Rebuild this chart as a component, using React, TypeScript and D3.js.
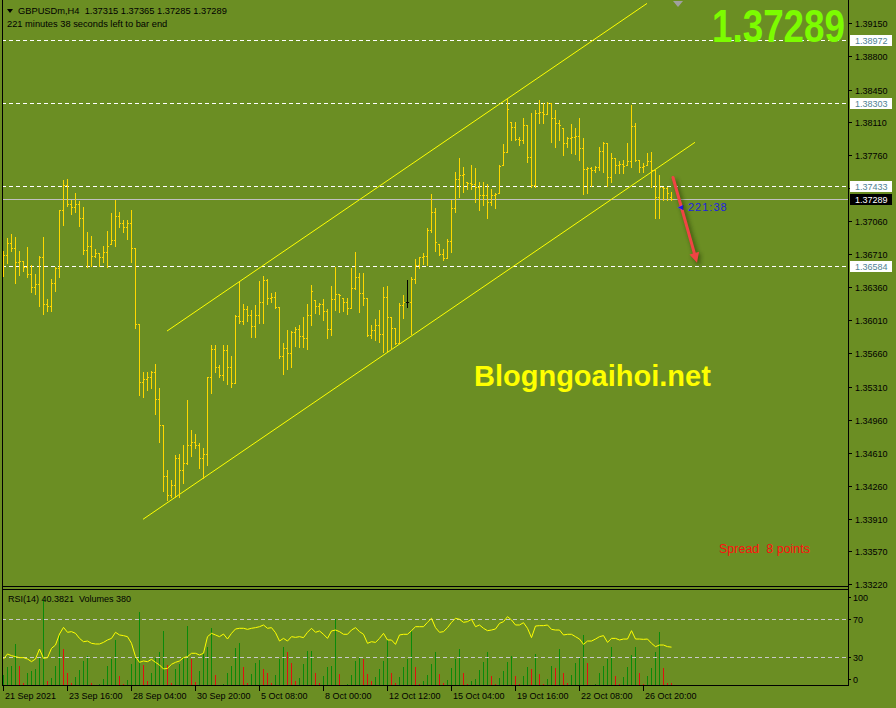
import React, { useRef, useEffect } from 'react'
import * as d3 from 'd3'

// GBPUSDm H4 bars (oldest first)
const opens = [
  1.3672, 1.3670, 1.3683, 1.3678, 1.3663, 1.3664, 1.3657, 1.3650, 1.3636, 1.3639,
  1.3668, 1.3618, 1.3616, 1.3641, 1.3656, 1.3718, 1.3744, 1.3724, 1.3721, 1.3724,
  1.3709, 1.3675, 1.3680, 1.3669, 1.3672, 1.3668, 1.3673, 1.3682, 1.3686, 1.3711,
  1.3704, 1.3700, 1.3704, 1.3677, 1.3597, 1.3536, 1.3539, 1.3541, 1.3546, 1.3518,
  1.3490, 1.3437, 1.3416, 1.3427, 1.3455, 1.3443, 1.3450, 1.3469, 1.3472, 1.3469,
  1.3455, 1.3460, 1.3541, 1.3571, 1.3552, 1.3543, 1.3570, 1.3552, 1.3535, 1.3606,
  1.3600, 1.3613, 1.3607, 1.3595, 1.3607, 1.3620, 1.3644, 1.3625, 1.3626, 1.3615,
  1.3563, 1.3572, 1.3567, 1.3589, 1.3592, 1.3584, 1.3582, 1.3607, 1.3623, 1.3616,
  1.3618, 1.3611, 1.3592, 1.3624, 1.3629, 1.3625, 1.3620, 1.3614, 1.3635, 1.3647,
  1.3630, 1.3625, 1.3586, 1.3591, 1.3596, 1.3587, 1.3626, 1.3605, 1.3593, 1.3577,
  1.3617, 1.3620, 1.3620, 1.3645, 1.3660, 1.3668, 1.3669, 1.3696, 1.3716, 1.3682,
  1.3671, 1.3667, 1.3685, 1.3720, 1.3750, 1.3755, 1.3747, 1.3746, 1.3745, 1.3742,
  1.3733, 1.3734, 1.3726, 1.3733, 1.3736, 1.3765, 1.3779, 1.3811, 1.3805, 1.3793,
  1.3792, 1.3808, 1.3774, 1.3744, 1.3820, 1.3821, 1.3819, 1.3831, 1.3815, 1.3810,
  1.3804, 1.3788, 1.3794, 1.3795, 1.3796, 1.3783, 1.3761, 1.3762, 1.3760, 1.3763,
  1.3780, 1.3788, 1.3753, 1.3773, 1.3765, 1.3766, 1.3765, 1.3769, 1.3806, 1.3770,
  1.3763, 1.3765, 1.3769, 1.3760, 1.3731, 1.3742, 1.3741, 1.37315,
]
const highs = [
  1.3674, 1.3688, 1.3692, 1.3689, 1.3674, 1.3664, 1.3679, 1.3660, 1.3650, 1.3669,
  1.3689, 1.3624, 1.3645, 1.3657, 1.3718, 1.3749, 1.3750, 1.3728, 1.3736, 1.3727,
  1.3721, 1.3694, 1.3690, 1.3676, 1.3672, 1.3680, 1.3695, 1.3714, 1.3728, 1.3716,
  1.3707, 1.3707, 1.3718, 1.3677, 1.3597, 1.3546, 1.3546, 1.3547, 1.3555, 1.3529,
  1.3490, 1.3443, 1.3432, 1.3459, 1.3460, 1.3469, 1.3517, 1.3485, 1.3481, 1.3471,
  1.3466, 1.3541, 1.3575, 1.3575, 1.3554, 1.3575, 1.3575, 1.3563, 1.3607, 1.3642,
  1.3618, 1.3616, 1.3612, 1.3617, 1.3643, 1.3648, 1.3645, 1.3630, 1.3631, 1.3615,
  1.3577, 1.3591, 1.3590, 1.3594, 1.3596, 1.3605, 1.3618, 1.3638, 1.3623, 1.3619,
  1.3624, 1.3613, 1.3637, 1.3657, 1.3629, 1.3625, 1.3625, 1.3656, 1.3673, 1.3651,
  1.3651, 1.3625, 1.3596, 1.3602, 1.3612, 1.3636, 1.3637, 1.3605, 1.3593, 1.3619,
  1.3628, 1.3644, 1.3647, 1.3666, 1.3668, 1.3672, 1.3699, 1.3735, 1.3720, 1.3682,
  1.3676, 1.3687, 1.3728, 1.3758, 1.3773, 1.3763, 1.3747, 1.3765, 1.3762, 1.3747,
  1.3747, 1.3745, 1.3740, 1.3736, 1.3765, 1.3787, 1.3835, 1.3811, 1.3811, 1.3795,
  1.3815, 1.3808, 1.3820, 1.3823, 1.3834, 1.3831, 1.3832, 1.3831, 1.3823, 1.3813,
  1.3804, 1.3795, 1.3809, 1.3804, 1.3815, 1.3794, 1.3763, 1.3763, 1.3764, 1.3784,
  1.3790, 1.3789, 1.3778, 1.3773, 1.3769, 1.3771, 1.3788, 1.3829, 1.3810, 1.3771,
  1.3767, 1.3778, 1.3779, 1.3760, 1.3755, 1.3742, 1.3742, 1.37365,
]
const lows = [
  1.3648, 1.3662, 1.3674, 1.3641, 1.3649, 1.3653, 1.3647, 1.3631, 1.3629, 1.3616,
  1.3608, 1.3611, 1.3611, 1.3632, 1.3647, 1.3702, 1.3722, 1.3713, 1.3716, 1.3701,
  1.3671, 1.3657, 1.3658, 1.3668, 1.3658, 1.3663, 1.3657, 1.3682, 1.3680, 1.3700,
  1.3694, 1.3687, 1.3663, 1.3593, 1.3522, 1.3520, 1.3527, 1.3529, 1.3502, 1.3472,
  1.3421, 1.3411, 1.3414, 1.3414, 1.3414, 1.3429, 1.3449, 1.3458, 1.3466, 1.3445,
  1.3434, 1.3448, 1.3524, 1.3546, 1.3541, 1.3538, 1.3534, 1.3531, 1.3535, 1.3598,
  1.3597, 1.3600, 1.3583, 1.3583, 1.3598, 1.3598, 1.3618, 1.3620, 1.3614, 1.3561,
  1.3544, 1.3550, 1.3552, 1.3574, 1.3573, 1.3573, 1.3571, 1.3596, 1.3609, 1.3608,
  1.3601, 1.3582, 1.3586, 1.3612, 1.3610, 1.3611, 1.3608, 1.3614, 1.3634, 1.3610,
  1.3617, 1.3584, 1.3582, 1.3580, 1.3578, 1.3568, 1.3569, 1.3571, 1.3576, 1.3577,
  1.3603, 1.3615, 1.3587, 1.3640, 1.3656, 1.3661, 1.3659, 1.3694, 1.3674, 1.3670,
  1.3665, 1.3667, 1.3673, 1.3716, 1.3731, 1.3737, 1.3740, 1.3740, 1.3726, 1.3718,
  1.3723, 1.3709, 1.3723, 1.3720, 1.3736, 1.3765, 1.3779, 1.3792, 1.3792, 1.3786,
  1.3788, 1.3768, 1.3742, 1.3742, 1.3810, 1.3810, 1.3819, 1.3790, 1.3784, 1.3792,
  1.3776, 1.3784, 1.3778, 1.3777, 1.3771, 1.3735, 1.3736, 1.3743, 1.3758, 1.3760,
  1.3758, 1.3743, 1.3747, 1.3757, 1.3757, 1.3757, 1.3765, 1.3763, 1.3769, 1.3758,
  1.3758, 1.3765, 1.3742, 1.3709, 1.3709, 1.3728, 1.3728, 1.37285,
]
const closes = [
  1.3670, 1.3683, 1.3678, 1.3663, 1.3664, 1.3657, 1.3650, 1.3636, 1.3639, 1.3668,
  1.3618, 1.3616, 1.3641, 1.3656, 1.3718, 1.3744, 1.3724, 1.3721, 1.3724, 1.3709,
  1.3675, 1.3680, 1.3669, 1.3672, 1.3668, 1.3673, 1.3680, 1.3686, 1.3711, 1.3704,
  1.3700, 1.3704, 1.3677, 1.3597, 1.3536, 1.3539, 1.3541, 1.3546, 1.3518, 1.3490,
  1.3437, 1.3416, 1.3427, 1.3455, 1.3443, 1.3450, 1.3469, 1.3472, 1.3469, 1.3455,
  1.3460, 1.3541, 1.3571, 1.3552, 1.3543, 1.3570, 1.3552, 1.3535, 1.3606, 1.3600,
  1.3613, 1.3607, 1.3595, 1.3607, 1.3620, 1.3644, 1.3625, 1.3626, 1.3615, 1.3563,
  1.3572, 1.3567, 1.3589, 1.3592, 1.3584, 1.3582, 1.3607, 1.3632, 1.3616, 1.3618,
  1.3611, 1.3592, 1.3624, 1.3629, 1.3628, 1.3620, 1.3614, 1.3635, 1.3647, 1.3630,
  1.3625, 1.3586, 1.3591, 1.3596, 1.3587, 1.3626, 1.3605, 1.3593, 1.3577, 1.3617,
  1.3620, 1.3620, 1.3645, 1.3660, 1.3668, 1.3669, 1.3696, 1.3716, 1.3684, 1.3671,
  1.3667, 1.3685, 1.3720, 1.3750, 1.3755, 1.3756, 1.3746, 1.3745, 1.3742, 1.3733,
  1.3734, 1.3726, 1.3733, 1.3735, 1.3764, 1.3779, 1.3824, 1.3805, 1.3793, 1.3792,
  1.3808, 1.3774, 1.3744, 1.3820, 1.3821, 1.3819, 1.3831, 1.3815, 1.3810, 1.3808,
  1.3788, 1.3794, 1.3795, 1.3796, 1.3783, 1.3761, 1.3762, 1.3760, 1.3763, 1.3780,
  1.3788, 1.3753, 1.3773, 1.3765, 1.3766, 1.3764, 1.3769, 1.3806, 1.3770, 1.3763,
  1.3764, 1.3769, 1.3760, 1.3731, 1.3742, 1.3741, 1.3736, 1.37289,
]
// tick volumes
const volumes = [
  1600, 2850, 2950, 6350, 2950, 450, 2000, 2200, 2500, 4350,
  13100, 700, 1200, 2950, 7700, 5500, 2000, 450, 1350, 2350,
  3700, 4450, 500, 100, 250, 1100, 3000, 4000, 6850, 1500,
  250, 850, 3250, 4350, 11100, 3100, 750, 2000, 4200, 5100,
  8200, 3100, 450, 2600, 3250, 4350, 8950, 4100, 600, 2200,
  5100, 5850, 8750, 1600, 100, 350, 2000, 2950, 5700, 6500,
  2850, 450, 1850, 3500, 3850, 2600, 2000, 450, 1700, 4000,
  5850, 5100, 3500, 750, 1200, 3350, 5200, 5200, 2000, 450,
  1500, 2900, 2950, 10100, 1750, 200, 350, 1600, 3700, 4350,
  4100, 1850, 700, 1350, 2500, 3700, 6850, 2000, 450, 1350,
  2850, 4100, 8200, 2850, 250, 750, 1700, 3350, 5100, 1750,
  450, 850, 2700, 4000, 5500, 1950, 250, 700, 1000, 2350,
  3600, 5100, 1500, 250, 1200, 2200, 3600, 4500, 1500, 250,
  1500, 2850, 2500, 4750, 1750, 250, 1000, 3000, 2700, 5500,
  1950, 450, 1600, 3450, 4350, 7600, 3450, 100, 250, 2000,
  2950, 4000, 5850, 1500, 250, 1350, 2850, 4600, 5850, 2000,
  250, 1500, 2700, 5100, 8100, 2700, 450, 380,
]
// RSI(14)
const rsi = [
  27.9, 33.2, 31.4, 30.4, 29.3, 29.3, 27.9, 25.1, 27.9, 38.4,
  28.6, 29.3, 39.1, 42.6, 54.2, 61.2, 56.0, 56.7, 54.9, 49.6,
  46.1, 46.8, 44.4, 43.7, 43.7, 45.4, 47.9, 49.6, 56.0, 53.2,
  52.5, 51.4, 44.4, 30.4, 24.4, 25.8, 25.1, 27.5, 24.4, 21.6,
  17.4, 18.1, 22.3, 24.4, 25.8, 29.3, 30.4, 33.9, 33.9, 32.1,
  33.9, 51.4, 54.9, 53.2, 51.4, 54.2, 48.9, 54.9, 59.5, 60.2,
  60.2, 59.1, 60.2, 60.9, 61.9, 63.7, 60.2, 60.9, 55.6, 46.8,
  49.6, 46.8, 51.4, 50.7, 51.4, 50.4, 56.0, 60.2, 56.0, 57.4,
  53.9, 49.6, 57.4, 58.4, 56.7, 53.9, 53.9, 58.4, 60.9, 56.7,
  53.9, 44.4, 46.1, 45.4, 49.6, 54.9, 47.9, 47.9, 43.3, 53.2,
  53.9, 53.9, 57.7, 61.9, 61.9, 61.9, 66.5, 70.7, 60.9, 56.0,
  56.7, 60.9, 66.5, 70.7, 69.7, 66.5, 67.2, 69.7, 61.9, 63.7,
  60.2, 57.7, 58.4, 59.5, 65.4, 67.2, 72.5, 69.0, 63.7, 63.7,
  66.1, 60.2, 50.4, 62.6, 63.0, 63.0, 63.7, 59.1, 58.4, 58.4,
  53.2, 53.9, 53.9, 51.4, 48.9, 43.3, 46.8, 46.8, 48.9, 51.4,
  52.5, 45.4, 49.6, 49.6, 47.9, 48.9, 48.9, 57.7, 48.9, 48.9,
  48.6, 48.9, 44.4, 40.9, 42.6, 42.6, 40.9, 40.3821,
]

const priceTicks = [
  1.3915, 1.388, 1.3845, 1.3811, 1.3776, 1.3741, 1.3706, 1.3671, 1.3636,
  1.3601, 1.3566, 1.3531, 1.3496, 1.3461, 1.3426, 1.3391, 1.3357, 1.3322,
]
const levelLines = [1.38972, 1.38303, 1.37433, 1.36584]
const rsiLevels = [70, 30]
const rsiAxisLabels = [100, 70, 30, 0]
const timeTickBars = [0, 16, 32, 48, 64, 80, 96, 112, 128, 144, 160]
const timeTickLabels = [
  '21 Sep 2021', '23 Sep 16:00', '28 Sep 04:00', '30 Sep 20:00', '5 Oct 08:00',
  '8 Oct 00:00', '12 Oct 12:00', '15 Oct 04:00', '19 Oct 16:00', '22 Oct 08:00', '26 Oct 20:00',
]
// channel trendlines as [bar index, price]
const upperChannel = [[41, 1.35897], [161, 1.3936]]
const lowerChannel = [[35, 1.33907], [173, 1.37892]]
const arrowPts = [[167.5, 1.3752], [173.5, 1.3662]]

const FONT = "'Liberation Sans', Arial, sans-serif"

const App = () => {
  const svgRef = useRef<SVGSVGElement>(null)

  useEffect(() => {
    const svg = d3.select(svgRef.current)
    svg.selectAll('*').remove()

    const left = 2, right = 848, mainBottom = 586, rsiTop = 589, rsiBottom = 686

    const x = d3.scaleLinear().domain([0, 1]).range([3, 7])
    const y = d3.scaleLinear().domain([1.3322, 1.3915]).range([584.3, 23.3])
    const rsiY = d3.scaleLinear().domain([0, 100]).range([685.5, 590.5])
    const volY = d3.scaleLinear().domain([0, 14400]).range([686, 590])
    const px = (i: number) => Math.round(x(i))
    const py = (p: number) => Math.round(y(p))

    svg.append('rect').attr('width', 896).attr('height', 708).attr('fill', '#6B8E23')

    const defs = svg.append('defs')
    defs.append('clipPath').attr('id', 'mainClip')
      .append('rect').attr('x', left).attr('y', 0).attr('width', right - left).attr('height', mainBottom)
    const blur = defs.append('filter').attr('id', 'shadow').attr('x', '-50%').attr('y', '-50%').attr('width', '200%').attr('height', '200%')
    blur.append('feGaussianBlur').attr('stdDeviation', 2)

    const main = svg.append('g').attr('clip-path', 'url(#mainClip)')

    // horizontal levels
    main.selectAll('.lvl').data(levelLines).enter().append('line')
      .attr('x1', left).attr('x2', right)
      .attr('y1', d => py(d) + 0.5).attr('y2', d => py(d) + 0.5)
      .attr('stroke', '#ffffff').attr('stroke-dasharray', '4,3')

    const last = closes[closes.length - 1]
    main.append('line').attr('x1', left).attr('x2', right)
      .attr('y1', py(last) + 0.5).attr('y2', py(last) + 0.5).attr('stroke', '#C0C0C0')

    // channel
    const tl = d3.line<number[]>().x(d => x(d[0])).y(d => y(d[1]))
    ;[upperChannel, lowerChannel].forEach(c => {
      main.append('path').attr('d', tl(c)).attr('stroke', '#FFFF00').attr('fill', 'none').attr('stroke-width', 1)
    })

    // OHLC bars
    const bars = main.append('g').attr('shape-rendering', 'crispEdges')
    closes.forEach((c, i) => {
      const xi = px(i)
      const col = opens[i] === c ? '#000000' : '#FFD700'
      const yh = py(highs[i]), yl = py(lows[i])
      bars.append('rect').attr('x', xi).attr('y', yh).attr('width', 1).attr('height', yl - yh + 1).attr('fill', col)
      bars.append('rect').attr('x', xi - 1).attr('y', py(opens[i])).attr('width', 1).attr('height', 1).attr('fill', col)
      bars.append('rect').attr('x', xi + 1).attr('y', py(c)).attr('width', 1).attr('height', 1).attr('fill', col)
    })

    // red arrow with shadow
    const a0 = [x(arrowPts[0][0]), y(arrowPts[0][1])]
    const a1 = [x(arrowPts[1][0]), y(arrowPts[1][1])]
    const ang = Math.atan2(a1[1] - a0[1], a1[0] - a0[0])
    const head = (dx: number, dy: number) => {
      const L = 10, Wd = 5
      const bx = a1[0] - L * Math.cos(ang) + dx, by = a1[1] - L * Math.sin(ang) + dy
      return `M${a1[0] + dx},${a1[1] + dy}L${bx - Wd * Math.sin(ang)},${by + Wd * Math.cos(ang)}L${bx + Wd * Math.sin(ang)},${by - Wd * Math.cos(ang)}Z`
    }
    const sh = svg.append('g').attr('filter', 'url(#shadow)').attr('opacity', 0.55)
    sh.append('line').attr('x1', a0[0] + 2).attr('y1', a0[1] + 2).attr('x2', a1[0] + 2).attr('y2', a1[1] + 2)
      .attr('stroke', '#1a2a05').attr('stroke-width', 4)
    sh.append('path').attr('d', head(2, 2)).attr('fill', '#1a2a05')
    svg.append('line').attr('x1', a0[0]).attr('y1', a0[1])
      .attr('x2', a1[0] - 6 * Math.cos(ang)).attr('y2', a1[1] - 6 * Math.sin(ang))
      .attr('stroke', '#F04444').attr('stroke-width', 3).attr('stroke-linecap', 'round')
    svg.append('path').attr('d', head(0, 0)).attr('fill', '#F04444')

    // countdown next to last bar
    svg.append('text').attr('x', 676).attr('y', 210).attr('font-family', FONT).attr('font-size', 9)
      .attr('fill', '#1E1EE0').text('◄')
    svg.append('text').attr('x', 688).attr('y', 210.5).attr('font-family', FONT).attr('font-size', 11)
      .attr('letter-spacing', 1).attr('fill', '#1E1EE0').text('221:38')

    // texts
    svg.append('path').attr('d', 'M7,9L13,9L10,13Z').attr('fill', '#000')
    svg.append('text').attr('x', 18).attr('y', 13.5).attr('font-family', FONT).attr('font-size', 9.3)
      .attr('fill', '#000').attr('xml:space', 'preserve').text('GBPUSDm,H4  1.37315 1.37365 1.37285 1.37289')
    svg.append('text').attr('x', 7).attr('y', 26.5).attr('font-family', FONT).attr('font-size', 9.3)
      .attr('fill', '#000').text('221 minutes 38 seconds left to bar end')
    svg.append('text').attr('transform', 'translate(845,42) scale(0.8,1)').attr('text-anchor', 'end').attr('font-family', FONT)
      .attr('font-weight', 'bold').attr('font-size', 46).attr('fill', '#7CFC00').text('1.37289')
    svg.append('text').attr('x', 474).attr('y', 386).attr('font-family', FONT)
      .attr('font-weight', 'bold').attr('font-size', 29).attr('fill', '#FFFF00').text('Blogngoaihoi.net')
    svg.append('text').attr('x', 719).attr('y', 553).attr('font-family', FONT).attr('font-size', 12.5)
      .attr('fill', '#FF1010').attr('xml:space', 'preserve').text('Spread  8 points')
    svg.append('path').attr('d', 'M673,1L683,1L678,7Z').attr('fill', '#A0A0A0')

    // price axis
    const ax = svg.append('g').attr('font-family', FONT).attr('font-size', 9)
    priceTicks.forEach(p => {
      ax.append('line').attr('x1', right).attr('x2', right + 4).attr('y1', py(p) + 0.5).attr('y2', py(p) + 0.5).attr('stroke', '#000')
      ax.append('text').attr('x', 855).attr('y', py(p) + 3.5).attr('fill', '#000').text(p.toFixed(5))
    })
    levelLines.forEach(p => {
      ax.append('rect').attr('x', 850).attr('y', py(p) - 5).attr('width', 42).attr('height', 11).attr('fill', '#fff')
      ax.append('text').attr('x', 855).attr('y', py(p) + 3.5).attr('fill', '#4F8294').text(p.toFixed(5))
    })
    ax.append('rect').attr('x', 850).attr('y', py(last) - 5).attr('width', 42).attr('height', 11).attr('fill', '#000')
    ax.append('text').attr('x', 855).attr('y', py(last) + 3.5).attr('fill', '#fff').text(last.toFixed(5))

    // RSI / volumes window
    const sub = svg.append('g')
    sub.append('g').attr('shape-rendering', 'crispEdges').selectAll('line').data(volumes).enter().append('line')
      .attr('x1', (d, i) => px(i) + 0.5).attr('x2', (d, i) => px(i) + 0.5)
      .attr('y1', rsiBottom).attr('y2', d => Math.round(volY(d)))
      .attr('stroke', (d, i) => (i > 0 && d < volumes[i - 1] ? '#E01010' : '#0A8A0A'))
    sub.selectAll('.rl').data(rsiLevels).enter().append('line')
      .attr('x1', left).attr('x2', right)
      .attr('y1', d => Math.round(rsiY(d)) + 0.5).attr('y2', d => Math.round(rsiY(d)) + 0.5)
      .attr('stroke', '#C8C8C8').attr('stroke-dasharray', '4,3')
    const rl = d3.line<number>().x((d, i) => px(i) + 0.5).y(d => rsiY(d))
    sub.append('path').attr('d', rl(rsi)).attr('fill', 'none').attr('stroke', '#FFFF00').attr('stroke-width', 1)
    sub.append('text').attr('x', 8).attr('y', 601.5).attr('font-family', FONT).attr('font-size', 9)
      .attr('fill', '#000').attr('xml:space', 'preserve').text('RSI(14) 40.3821  Volumes 380')
    rsiAxisLabels.forEach(v => {
      const yy = Math.min(Math.max(rsiY(v), 597), 679)
      sub.append('line').attr('x1', right).attr('x2', right + 3).attr('y1', Math.round(yy) + 0.5).attr('y2', Math.round(yy) + 0.5).attr('stroke', '#000')
      sub.append('text').attr('x', 853).attr('y', yy + 3.5).attr('font-family', FONT).attr('font-size', 9).attr('fill', '#000').text(String(v))
    })

    // frames
    const fr = svg.append('g').attr('stroke', '#000').attr('fill', 'none').attr('shape-rendering', 'crispEdges')
    fr.append('line').attr('x1', left + 0.5).attr('x2', left + 0.5).attr('y1', 0).attr('y2', rsiBottom)
    fr.append('line').attr('x1', right + 0.5).attr('x2', right + 0.5).attr('y1', 0).attr('y2', rsiBottom)
    fr.append('line').attr('x1', left).attr('x2', right + 1).attr('y1', mainBottom + 0.5).attr('y2', mainBottom + 0.5)
    fr.append('line').attr('x1', left).attr('x2', right + 1).attr('y1', rsiTop + 0.5).attr('y2', rsiTop + 0.5)
    fr.append('line').attr('x1', left).attr('x2', right + 1).attr('y1', rsiBottom - 0.5).attr('y2', rsiBottom - 0.5)

    // time axis
    const tx = svg.append('g').attr('font-family', FONT).attr('font-size', 9)
    timeTickBars.forEach((b, k) => {
      tx.append('line').attr('x1', px(b) + 0.5).attr('x2', px(b) + 0.5).attr('y1', rsiBottom).attr('y2', rsiBottom + 5).attr('stroke', '#000')
      tx.append('text').attr('x', px(b) + 2).attr('y', 698.5).attr('fill', '#000').text(timeTickLabels[k])
    })
  }, [])

  return (
    <svg ref={svgRef} width={896} height={708}
      style={{ position: 'absolute', left: 0, top: 0, display: 'block' }} />
  )
}

export default App
